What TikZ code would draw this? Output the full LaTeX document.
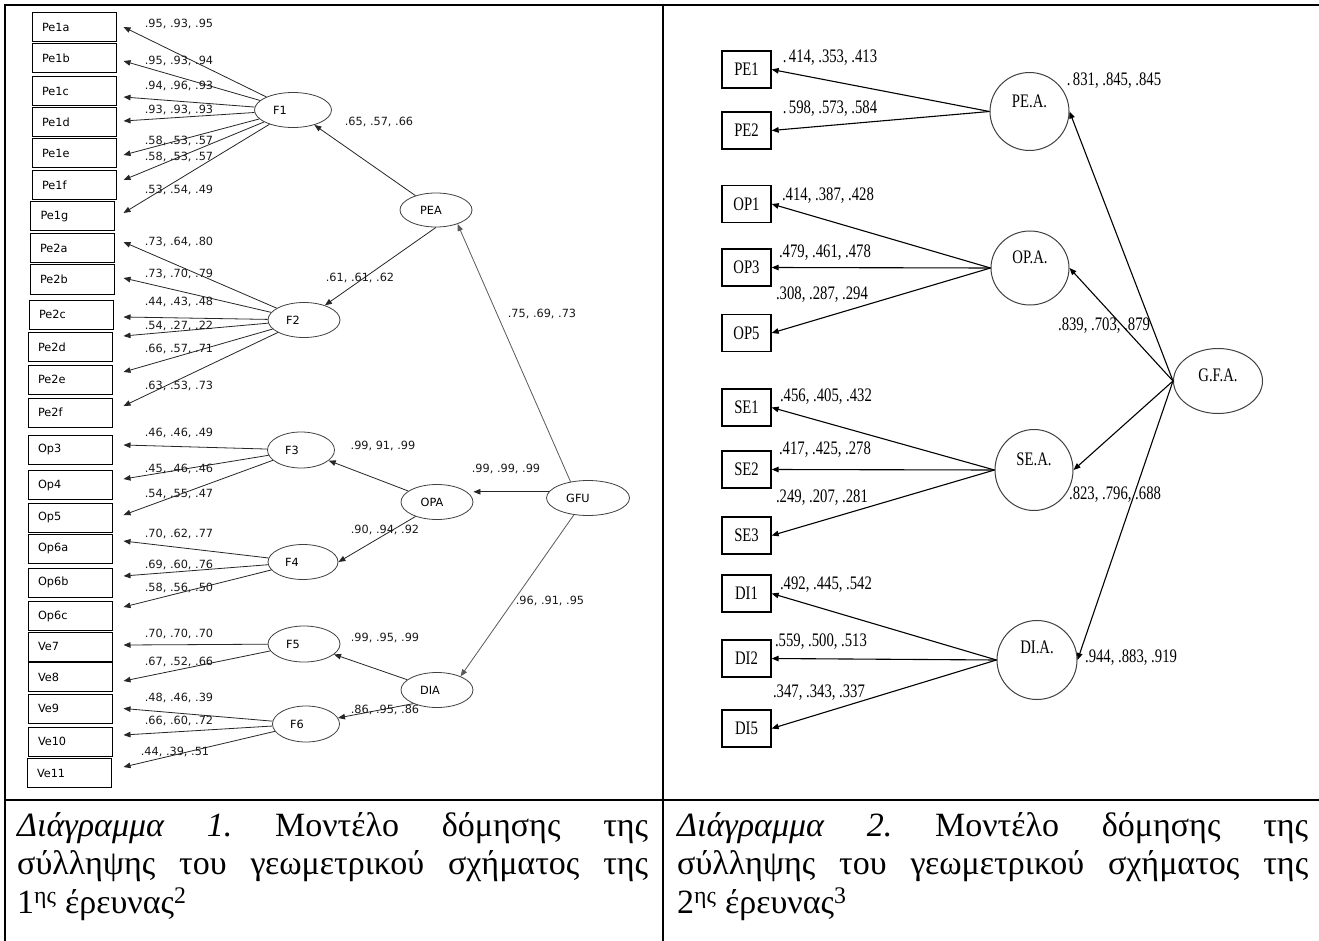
\documentclass[tikz,border=0pt]{standalone}
\usepackage{fontspec}
\usepackage{graphicx}
\usetikzlibrary{shapes.geometric,arrows.meta}
\newfontfamily\lsansfam{DejaVu Sans}
\newfontfamily\rseriffam{Liberation Serif}
\newcommand\talltxt[1]{\scalebox{1}[1.3]{#1}}
\newcommand\lfnt{\lsansfam\fontsize{11.3}{13}\selectfont}
\newcommand\rfnt{\rseriffam\fontsize{14.7}{17}\selectfont}
\newcommand\cfnt{\rseriffam\fontsize{34}{39}\selectfont}
\tikzset{
  frameline/.style={line width=2.2pt, black},
  lbox/.style={draw, line width=1pt, minimum width=84pt, minimum height=29pt,
    text width=64pt, inner xsep=10pt, inner ysep=0pt, align=left, font=\lfnt},
  lell/.style={ellipse, draw=black!75, line width=0.8pt, inner sep=0pt},
  ltxt/.style={font=\lfnt, inner sep=0pt},
  llab/.style={font=\lfnt, inner sep=0pt, text=black!90},
  larr/.style={draw=black!85, line width=0.8pt, -{Triangle[length=7pt,width=5.5pt]}},
  rbox/.style={draw, line width=1.3pt, minimum width=49pt, minimum height=37pt,
    inner sep=0pt, font=\rfnt},
  rell/.style={ellipse, draw=black!75, line width=1pt, inner sep=0pt},
  rtxt/.style={font=\rfnt, inner sep=0pt},
  rlab/.style={font=\rfnt, inner sep=0pt},
  rarr/.style={draw=black, line width=1.1pt, -{Triangle[length=7pt,width=5.5pt]}},
  capw/.style={font=\cfnt, inner sep=0pt, anchor=base west}
}
\begin{document}
\begin{tikzpicture}[x=1pt,y=-1pt]
\useasboundingbox (0,0) rectangle (1319,941);
\fill[white] (0,0) rectangle (1319,941);

% table frame
\draw[frameline] (3.9,5) -- (1319,5);
\draw[frameline] (5,5) -- (5,941);
\draw[frameline] (663,5) -- (663,941);
\draw[frameline] (5,800) -- (1319,800);

% ---------------- left diagram ----------------
\foreach \n/\x/\y in {Pe1a/74/27, Pe1b/74/58.5, Pe1c/74/91.5, Pe1d/74/122.5,
  Pe1e/74/153, Pe1f/74/185, Pe1g/72.5/216.5, Pe2a/72/248.5, Pe2b/72/279.5,
  Pe2c/71/314.5, Pe2d/70/347, Pe2e/70/379.5, Pe2f/70/412.5, Op3/70/449.5,
  Op4/70/485, Op5/70/517.5, Op6a/70/548.5, Op6b/70/582.5, Op6c/70/616,
  Ve7/70/646.5, Ve8/70/677, Ve9/70/708.5, Ve10/70/741.5, Ve11/69/773}
  \node[lbox] (\n) at (\x,\y) {\n};

\node[lell, minimum width=77pt, minimum height=35pt, label={[ltxt,xshift=-13pt]center:F1}] (F1) at (293,110) {};
\node[lell, minimum width=72pt, minimum height=35pt, label={[ltxt,xshift=-11pt]center:F2}] (F2) at (304,320) {};
\node[lell, minimum width=67pt, minimum height=36pt, label={[ltxt,xshift=-9pt]center:F3}] (F3) at (301,450) {};
\node[lell, minimum width=70pt, minimum height=35pt, label={[ltxt,xshift=-11pt]center:F4}] (F4) at (303,562) {};
\node[lell, minimum width=72pt, minimum height=36pt, label={[ltxt,xshift=-11pt]center:F5}] (F5) at (304,644) {};
\node[lell, minimum width=67pt, minimum height=36pt, label={[ltxt,xshift=-9pt]center:F6}] (F6) at (306,724) {};
\node[lell, minimum width=72pt, minimum height=34pt, label={[ltxt,xshift=-5pt]center:PEA}] (PEA) at (436,210) {};
\node[lell, minimum width=72pt, minimum height=35pt, label={[ltxt,xshift=-5pt]center:OPA}] (OPA) at (437,502) {};
\node[lell, minimum width=72pt, minimum height=35pt, label={[ltxt,xshift=-7pt]center:DIA}] (DIA) at (437,690) {};
\node[lell, minimum width=83pt, minimum height=35pt, label={[ltxt,xshift=-10pt]center:GFU}] (GFU) at (588,498) {};

\foreach \b/\f/\d/\g in {Pe1a/F1/0/7, Pe1b/F1/-2.5/7, Pe1c/F1/-5.5/7, Pe1d/F1/1.5/7,
  Pe1e/F1/-2/7, Pe1f/F1/5/7, Pe1g/F1/3.5/8.5, Pe2a/F2/6.5/9, Pe2b/F2/1.5/9,
  Pe2c/F2/-2.5/10, Pe2d/F2/11/11, Pe2e/F2/7.5/11, Pe2f/F2/6.5/11, Op3/F3/4.5/11,
  Op4/F3/6/11, Op5/F3/2.5/11, Op6a/F4/7.5/11, Op6b/F4/6.5/11, Op6c/F4/9/11,
  Ve7/F5/1.5/11, Ve8/F5/-4/11, Ve9/F6/0/11, Ve10/F6/6.5/11, Ve11/F6/6/12}
  \draw[larr] (\f) -- ([xshift=\g pt, yshift=\d pt]\b.east);

\draw[larr] (PEA) -- (F1);
\draw[larr] (PEA.south) -- (F2);
\draw[larr, draw=black!65] (GFU.137) -- (PEA.-33);
\draw[larr] (GFU.171) -- (GFU.171 -| OPA.east);
\draw[larr] (OPA) -- (F3);
\draw[larr] (OPA.214) -- (F4.east);
\draw[larr, draw=black!65] (GFU.230) -- (DIA.30);
\draw[larr] (DIA) -- (F5);
\draw[larr] (DIA.210) -- (F6);

\node[llab] (l01) at (179,24) {.95, .93, .95};
\node[llab] (l02) at (179,61) {.95, .93, .94};
\node[llab] (l03) at (179,86) {.94, .96, .93};
\node[llab] (l04) at (179,110) {.93, .93, .93};
\node[llab] (l05) at (179,141) {.58, .53, .57};
\node[llab] (l06) at (179,157) {.58, .53, .57};
\node[llab] (l07) at (179,190) {.53, .54, .49};
\node[llab] (l08) at (379,122) {.65, .57, .66};
\node[llab] (l09) at (179,242) {.73, .64, .80};
\node[llab] (l10) at (179,274) {.73, .70, .79};
\node[llab] (l11) at (179,302) {.44, .43, .48};
\node[llab] (l12) at (179,326) {.54, .27, .22};
\node[llab] (l13) at (179,349) {.66, .57, .71};
\node[llab] (l14) at (179,386) {.63, .53, .73};
\node[llab] (l15) at (360,278) {.61, .61, .62};
\node[llab] (l16) at (542,314) {.75, .69, .73};
\node[llab] (l17) at (179,433) {.46, .46, .49};
\node[llab] (l18) at (179,469) {.45, .46, .46};
\node[llab] (l19) at (179,494) {.54, .55, .47};
\node[llab] (l20) at (383,446) {.99, 91, .99};
\node[llab] (l21) at (506,469) {.99, .99, .99};
\node[llab] (l22) at (385,530) {.90, .94, .92};
\node[llab] (l23) at (179,534) {.70, .62, .77};
\node[llab] (l24) at (179,565) {.69, .60, .76};
\node[llab] (l25) at (179,588) {.58, .56, .50};
\node[llab] (l26) at (550,601) {.96, .91, .95};
\node[llab] (l27) at (385,638) {.99, .95, .99};
\node[llab] (l28) at (179,634) {.70, .70, .70};
\node[llab] (l29) at (179,662) {.67, .52, .66};
\node[llab] (l30) at (385,710) {.86, .95, .86};
\node[llab] (l31) at (179,698) {.48, .46, .39};
\node[llab] (l32) at (179,721) {.66, .60, .72};
\node[llab] (l33) at (175,752) {.44, .39, .51};

% ---------------- right diagram ----------------
\foreach \n/\y in {PE1/69.5, PE2/130.5, OP1/204, OP3/267.5, OP5/333, SE1/407.5,
  SE2/469.5, SE3/535.5, DI1/593.5, DI2/658.5, DI5/728.5}
  \node[rbox] (r\n) at (746.5,\y) {\talltxt{\n}};

\node[rell, minimum width=79pt, minimum height=78pt, label={[rtxt,yshift=10pt]center:\talltxt{PE.A.}}] (rPEA) at (1029.5,111.5) {};
\node[rell, minimum width=78pt, minimum height=74pt, label={[rtxt,yshift=11pt]center:\talltxt{OP.A.}}] (rOPA) at (1030,268) {};
\node[rell, minimum width=78pt, minimum height=81pt, label={[rtxt,yshift=11pt]center:\talltxt{SE.A.}}] (rSEA) at (1034,470) {};
\node[rell, minimum width=80pt, minimum height=79pt, label={[rtxt,yshift=13pt]center:\talltxt{DI.A.}}] (rDIA) at (1037,660) {};
\node[rell, minimum width=89pt, minimum height=65pt, label={[rtxt,yshift=6pt]center:\talltxt{G.F.A.}}] (rGFA) at (1218,381) {};

\foreach \e/\b in {rPEA/rPE1, rPEA/rPE2, rOPA/rOP1, rOPA/rOP3, rOPA/rOP5,
  rSEA/rSE1, rSEA/rSE2, rSEA/rSE3, rDIA/rDI1, rDIA/rDI2, rDIA/rDI5}
  \draw[rarr] (\e.west) -- (\b.east);
\foreach \e in {rPEA, rOPA, rSEA, rDIA}
  \draw[rarr] (rGFA.west) -- (\e.east);

\node[rlab] (r01) at (830,58) {\talltxt{.\,414, .353, .413}};
\node[rlab] (r02) at (830,109) {\talltxt{.\,598, .573, .584}};
\node[rlab] (r03) at (828,196) {\talltxt{.414, .387, .428}};
\node[rlab] (r04) at (825,253) {\talltxt{.479, .461, .478}};
\node[rlab] (r05) at (822,295) {\talltxt{.308, .287, .294}};
\node[rlab] (r06) at (826,397) {\talltxt{.456, .405, .432}};
\node[rlab] (r07) at (825,450) {\talltxt{.417, .425, .278}};
\node[rlab] (r08) at (822,498) {\talltxt{.249, .207, .281}};
\node[rlab] (r09) at (826,585) {\talltxt{.492, .445, .542}};
\node[rlab] (r10) at (821,642) {\talltxt{.559, .500, .513}};
\node[rlab] (r11) at (819,693) {\talltxt{.347, .343, .337}};
\node[rlab] (r12) at (1114,81) {\talltxt{.\,831, .845, .845}};
\node[rlab] (r13) at (1104,326) {\talltxt{.839, .703, .879}};
\node[rlab] (r14) at (1115,495) {\talltxt{.823, .796, .688}};
\node[rlab] (r15) at (1131,658) {\talltxt{.944, .883, .919}};

% ---------------- captions ----------------
\node[capw] (c1) at (17,836) {\hbox to 631pt{\itshape Διάγραμμα\hfill 1.\hfill\upshape Μοντέλο\hfill δόμησης\hfill της}};
\node[capw] (c2) at (17,874) {\hbox to 631pt{σύλληψης\hfill του\hfill γεωμετρικού\hfill σχήματος\hfill της}};
\node[capw] (c3) at (17,913) {1\textsuperscript{ης} έρευνας\textsuperscript{2}};

\node[capw] (d1) at (677,836) {\hbox to 631pt{\itshape Διάγραμμα\hfill 2.\hfill\upshape Μοντέλο\hfill δόμησης\hfill της}};
\node[capw] (d2) at (677,874) {\hbox to 631pt{σύλληψης\hfill του\hfill γεωμετρικού\hfill σχήματος\hfill της}};
\node[capw] (d3) at (677,913) {2\textsuperscript{ης} έρευνας\textsuperscript{3}};
\end{tikzpicture}
\end{document}
